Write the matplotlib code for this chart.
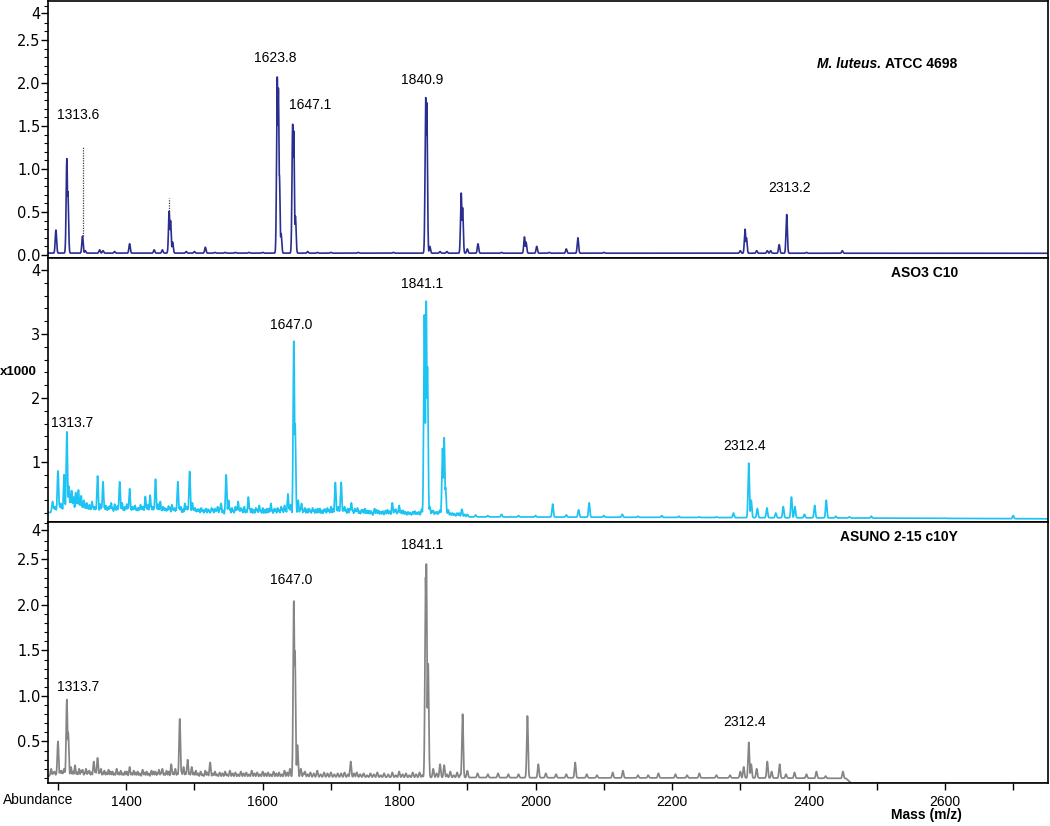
import numpy as np
import matplotlib
matplotlib.use("Agg")
import matplotlib.pyplot as plt
from matplotlib.ticker import FixedLocator

plt.rcParams['font.family'] = ['Liberation Sans', 'DejaVu Sans']

# ---------------- data ----------------
# Panel 1: M. luteus ATCC 4698 (peak m/z, peak top height)
top_peak_mz = [1297, 1313, 1314.5, 1336, 1340, 1361, 1366, 1383, 1405, 1441, 1453, 1463, 1465, 1468,
               1488, 1500, 1516, 1530, 1545, 1560, 1580, 1600, 1621.4, 1623, 1624.5, 1627, 1644, 1645.5,
               1648, 1666, 1680, 1700, 1740, 1791.6, 1839, 1840.5, 1845, 1860, 1870, 1891, 1893, 1900,
               1915.6, 1950, 1983.7, 1986, 2001.7, 2020, 2045, 2062, 2100, 2300, 2307, 2309, 2324,
               2339.6, 2344.5, 2357, 2368, 2397, 2433.5, 2449.5]
top_peak_h = [0.29, 1.12, 0.74, 0.22, 0.05, 0.06, 0.05, 0.04, 0.13, 0.06, 0.06, 0.51, 0.40, 0.15,
              0.04, 0.04, 0.09, 0.03, 0.03, 0.03, 0.03, 0.03, 2.07, 1.94, 0.93, 0.25, 1.52, 1.45,
              0.45, 0.04, 0.03, 0.03, 0.03, 0.03, 1.83, 1.78, 0.10, 0.04, 0.04, 0.72, 0.55, 0.07,
              0.13, 0.03, 0.21, 0.15, 0.10, 0.03, 0.07, 0.20, 0.03, 0.05, 0.30, 0.20, 0.05,
              0.05, 0.05, 0.12, 0.47, 0.03, 0.02, 0.05]
top_base_mz = [1285, 2751]
top_base_lvl = [0.022, 0.02]
top_dotted_mz = [1336, 1463]
top_dotted_lo = [0.22, 0.51]
top_dotted_hi = [1.26, 0.66]
top_labels = ["1313.6", "1623.8", "1647.1", "1840.9", "2313.2"]
top_label_mz = [1329, 1618.7, 1670, 1834, 2372]
top_label_y = [1.63, 2.29, 1.74, 2.03, 0.78]

# Panel 2: ASO3 C10
mid_peak_mz = [1292, 1296, 1300, 1304, 1309, 1313, 1316, 1320, 1323, 1326, 1330, 1334, 1338, 1342,
               1346, 1350, 1354, 1358, 1362, 1366, 1370, 1374, 1378, 1383, 1387, 1390.5, 1394, 1398,
               1401, 1405, 1409, 1413, 1417, 1421, 1425, 1428, 1432, 1435, 1439, 1443, 1447, 1450,
               1454, 1458, 1462, 1467, 1471, 1475.6, 1480, 1486, 1489, 1493, 1497, 1501, 1505, 1510,
               1515, 1520, 1525, 1530, 1534, 1539, 1546.5, 1550, 1555, 1560, 1564, 1568, 1573, 1579,
               1584, 1590, 1595, 1600, 1606, 1612, 1617, 1622, 1627, 1632, 1637, 1641, 1645.7, 1647.5,
               1652, 1657, 1662, 1668, 1673, 1678, 1684, 1690, 1695, 1700, 1706.5, 1711, 1715, 1720,
               1725, 1730, 1735, 1739, 1745, 1750, 1756, 1764, 1770, 1776, 1783, 1790, 1795, 1800,
               1806, 1813, 1820, 1826, 1833, 1837, 1839.7, 1841.5, 1845, 1850, 1855, 1860, 1863.6,
               1866, 1868, 1872, 1878, 1885, 1892, 1900, 1912, 1930, 1950, 1975, 2000, 2025, 2045,
               2063, 2078.5, 2100, 2127, 2150, 2185, 2210, 2240, 2265, 2290, 2312.4, 2316, 2325,
               2339, 2352, 2363, 2375, 2380, 2394, 2409, 2426, 2440, 2460, 2492, 2530, 2600, 2700]
mid_peak_h = [0.38, 0.30, 0.86, 0.35, 0.80, 1.47, 0.62, 0.55, 0.45, 0.52, 0.56, 0.47, 0.40, 0.36,
              0.33, 0.38, 0.30, 0.78, 0.34, 0.69, 0.32, 0.30, 0.36, 0.34, 0.31, 0.69, 0.36, 0.30,
              0.34, 0.58, 0.30, 0.32, 0.28, 0.33, 0.30, 0.46, 0.33, 0.48, 0.30, 0.73, 0.34, 0.38,
              0.30, 0.27, 0.31, 0.33, 0.28, 0.69, 0.30, 0.35, 0.30, 0.85, 0.36, 0.28, 0.26, 0.28,
              0.25, 0.26, 0.28, 0.27, 0.30, 0.35, 0.80, 0.40, 0.28, 0.30, 0.38, 0.28, 0.30, 0.45,
              0.27, 0.28, 0.32, 0.28, 0.27, 0.35, 0.27, 0.28, 0.30, 0.32, 0.50, 0.33, 2.90, 1.60,
              0.40, 0.35, 0.28, 0.27, 0.28, 0.26, 0.27, 0.26, 0.28, 0.30, 0.68, 0.30, 0.68, 0.30,
              0.27, 0.36, 0.27, 0.28, 0.25, 0.27, 0.24, 0.27, 0.24, 0.23, 0.25, 0.36, 0.26, 0.32,
              0.24, 0.22, 0.22, 0.21, 0.26, 3.30, 3.53, 2.50, 0.30, 0.24, 0.22, 0.25, 1.21,
              1.38, 0.60, 0.25, 0.20, 0.20, 0.26, 0.18, 0.17, 0.16, 0.18, 0.16, 0.16, 0.34, 0.17,
              0.25, 0.36, 0.16, 0.18, 0.15, 0.16, 0.15, 0.14, 0.14, 0.20, 0.98, 0.40, 0.27,
              0.28, 0.20, 0.30, 0.45, 0.30, 0.18, 0.32, 0.40, 0.15, 0.14, 0.15, 0.12, 0.12, 0.16]
# small baseline ripples of the ASO3 C10 trace
mid_noise_mz = [1294, 1298, 1302, 1306, 1311, 1318, 1321.5, 1328, 1332, 1336, 1340, 1344, 1348, 1352,
                1356, 1360, 1364, 1368, 1372, 1376, 1380, 1385, 1389, 1392, 1396, 1400, 1403, 1407,
                1411, 1415, 1419, 1423, 1427, 1430, 1434, 1437, 1441, 1445, 1449, 1452, 1456, 1460,
                1464, 1469, 1473, 1478, 1483, 1488, 1491, 1495, 1499, 1503, 1507, 1512, 1517, 1522,
                1527, 1532, 1537, 1542, 1548, 1552, 1557, 1562, 1566, 1570, 1576, 1581, 1587, 1592,
                1597, 1603, 1609, 1614, 1619, 1624, 1629, 1634, 1639, 1655, 1660, 1665, 1670, 1675,
                1681, 1687, 1692, 1697, 1703, 1709, 1713, 1718, 1722, 1728, 1732, 1737, 1742, 1747,
                1753, 1759, 1767, 1773, 1780, 1786, 1793, 1798, 1803, 1809, 1816, 1823, 1829, 1848,
                1853, 1858, 1870, 1875, 1881, 1888, 1896]
mid_noise_h = [0.30, 0.26, 0.33, 0.29, 0.34, 0.40, 0.36, 0.38, 0.35, 0.31, 0.30, 0.29, 0.27, 0.30,
               0.28, 0.26, 0.30, 0.29, 0.27, 0.31, 0.28, 0.27, 0.30, 0.29, 0.26, 0.28, 0.30, 0.27,
               0.29, 0.26, 0.28, 0.30, 0.27, 0.29, 0.26, 0.30, 0.28, 0.29, 0.27, 0.25, 0.28, 0.26,
               0.29, 0.27, 0.25, 0.28, 0.26, 0.27, 0.29, 0.25, 0.27, 0.24, 0.26, 0.25, 0.27, 0.24,
               0.26, 0.25, 0.27, 0.24, 0.28, 0.26, 0.24, 0.27, 0.25, 0.26, 0.24, 0.27, 0.25, 0.26,
               0.24, 0.25, 0.27, 0.24, 0.26, 0.25, 0.27, 0.25, 0.28, 0.27, 0.25, 0.26, 0.24, 0.25,
               0.27, 0.24, 0.26, 0.25, 0.27, 0.26, 0.24, 0.26, 0.25, 0.27, 0.24, 0.25, 0.23, 0.25,
               0.24, 0.23, 0.25, 0.22, 0.24, 0.23, 0.25, 0.22, 0.24, 0.22, 0.21, 0.23, 0.22, 0.23,
               0.21, 0.22, 0.21, 0.20, 0.19, 0.20, 0.18]
mid_base_mz = [1285, 1350, 1450, 1600, 1700, 1850, 1900, 2100, 2400, 2751]
mid_base_lvl = [0.21, 0.19, 0.18, 0.17, 0.17, 0.16, 0.14, 0.135, 0.125, 0.11]
mid_labels = ["1313.7", "1647.0", "1841.1", "2312.4"]
mid_label_mz = [1321.4, 1642, 1834, 2307]
mid_label_y = [1.61, 3.14, 3.78, 1.25]

# Panel 3: ASUNO 2-15 c10Y
bot_peak_mz = [1290, 1295, 1300, 1305, 1309, 1313, 1315, 1319, 1325, 1331, 1336, 1341, 1346, 1352.5,
               1358, 1363, 1368, 1374, 1380, 1386, 1392, 1398, 1405, 1411, 1417, 1424, 1430, 1437,
               1443, 1448, 1453, 1459, 1466, 1472, 1478.5, 1484, 1490, 1496, 1502, 1509, 1516, 1523,
               1530, 1537, 1545, 1552, 1560, 1568, 1576, 1584, 1592, 1600, 1608, 1616, 1624, 1632,
               1640, 1645.7, 1647.3, 1651, 1656, 1662, 1670, 1680, 1690, 1700, 1710, 1720, 1729,
               1738, 1748, 1758, 1768, 1778, 1790, 1800, 1810, 1820, 1830, 1838.8, 1839.9, 1842.5,
               1850, 1860, 1866, 1875, 1885, 1893, 1900, 1915, 1930, 1945, 1960, 1975, 1988, 2004,
               2015, 2030, 2045, 2058, 2075, 2090, 2113, 2128, 2150, 2165, 2180, 2205, 2222, 2240,
               2265, 2285, 2300, 2305, 2312.4, 2316, 2324, 2339.6, 2346, 2357.6, 2367, 2379.5, 2397,
               2411.6, 2425, 2450.4]
bot_peak_h = [0.20, 0.17, 0.50, 0.18, 0.20, 0.96, 0.60, 0.22, 0.24, 0.20, 0.19, 0.20, 0.18, 0.28,
              0.32, 0.20, 0.18, 0.19, 0.17, 0.20, 0.18, 0.17, 0.22, 0.18, 0.17, 0.19, 0.17, 0.18,
              0.17, 0.19, 0.20, 0.18, 0.25, 0.20, 0.75, 0.22, 0.30, 0.22, 0.18, 0.17, 0.18, 0.27,
              0.17, 0.16, 0.17, 0.18, 0.16, 0.17, 0.16, 0.18, 0.16, 0.17, 0.16, 0.17, 0.16, 0.18,
              0.20, 2.05, 1.50, 0.46, 0.20, 0.17, 0.16, 0.18, 0.16, 0.16, 0.15, 0.16, 0.28,
              0.16, 0.15, 0.15, 0.16, 0.15, 0.16, 0.17, 0.15, 0.16, 0.16, 2.30, 2.46, 1.36,
              0.20, 0.25, 0.24, 0.17, 0.16, 0.80, 0.18, 0.15, 0.14, 0.15, 0.14, 0.14, 0.78, 0.25,
              0.15, 0.14, 0.14, 0.27, 0.14, 0.13, 0.16, 0.18, 0.13, 0.13, 0.15, 0.14, 0.13, 0.15,
              0.13, 0.13, 0.17, 0.22, 0.49, 0.25, 0.20, 0.28, 0.17, 0.25, 0.14, 0.16, 0.14,
              0.17, 0.12, 0.17]
# small baseline ripples of the ASUNO trace
bot_noise_mz = [1293, 1298, 1303, 1307, 1311, 1322, 1328, 1334, 1339, 1344, 1349, 1355, 1361, 1366,
                1371, 1377, 1383, 1389, 1395, 1401, 1408, 1414, 1420, 1427, 1433, 1440, 1446, 1451,
                1456, 1462, 1469, 1475, 1481, 1487, 1493, 1499, 1505, 1512, 1519, 1527, 1533, 1541,
                1548, 1556, 1564, 1572, 1580, 1588, 1596, 1604, 1612, 1620, 1628, 1636, 1660, 1666,
                1675, 1685, 1695, 1705, 1715, 1725, 1734, 1743, 1753, 1763, 1773, 1784, 1795, 1805,
                1815, 1825, 1834, 1855, 1870, 1880, 1890]
bot_noise_h = [0.16, 0.15, 0.17, 0.16, 0.18, 0.17, 0.16, 0.18, 0.15, 0.17, 0.16, 0.18, 0.17, 0.15,
               0.16, 0.17, 0.15, 0.16, 0.15, 0.17, 0.15, 0.16, 0.15, 0.16, 0.15, 0.17, 0.15, 0.16,
               0.15, 0.17, 0.16, 0.15, 0.17, 0.16, 0.15, 0.16, 0.15, 0.14, 0.16, 0.15, 0.14, 0.15,
               0.14, 0.15, 0.14, 0.15, 0.14, 0.15, 0.14, 0.15, 0.14, 0.15, 0.14, 0.16, 0.15, 0.14,
               0.15, 0.14, 0.15, 0.14, 0.15, 0.14, 0.15, 0.14, 0.13, 0.14, 0.13, 0.14, 0.13, 0.14,
               0.13, 0.14, 0.13, 0.15, 0.14, 0.13, 0.14]
bot_base_mz = [1285, 1450, 1650, 1850, 2100, 2300, 2455, 2462, 2751]
bot_base_lvl = [0.12, 0.115, 0.11, 0.105, 0.10, 0.10, 0.095, 0.045, 0.045]
bot_labels = ["1313.7", "1647.0", "1841.1", "2312.4"]
bot_label_mz = [1329, 1642, 1834, 2307]
bot_label_y = [1.10, 2.27, 2.66, 0.71]

panel_titles = ["ATCC 4698", "ASO3 C10", "ASUNO 2-15 c10Y"]

x_ticks = list(range(1300, 2701, 100))
x_tick_labels = [str(v) if v % 200 == 0 else "" for v in x_ticks]

# ---------------- build ----------------
mz = np.arange(1285.0, 2752.0, 0.2)


def spectrum(base_mz, base_lvl, pk_mz, pk_h, sigma=1.0):
    base = np.interp(mz, base_mz, base_lvl)
    y = base.copy()
    for c, h in zip(pk_mz, pk_h):
        b = np.interp(c, base_mz, base_lvl)
        y = np.maximum(y, base + (h - b) * np.exp(-0.5 * ((mz - c) / sigma) ** 2))
    return y


W, H = 1050, 826
fig = plt.figure(figsize=(W / 100, H / 100), dpi=100)
left, width = 48 / W, 1000 / W
ax1 = fig.add_axes([left, (H - 258) / H, width, 257 / H])
ax2 = fig.add_axes([left, (H - 522) / H, width, 264 / H])
ax3 = fig.add_axes([left, (H - 783) / H, width, 261 / H])

c_top, c_mid, c_bot = "#2B2E8F", "#1DC3F3", "#858585"

ax1.plot(mz, spectrum(top_base_mz, top_base_lvl, top_peak_mz, top_peak_h), color=c_top, lw=1.2)
ax2.plot(mz, spectrum(mid_base_mz, mid_base_lvl, mid_peak_mz + mid_noise_mz, mid_peak_h + mid_noise_h),
         color=c_mid, lw=1.25)
ax3.plot(mz, spectrum(bot_base_mz, bot_base_lvl, bot_peak_mz + bot_noise_mz, bot_peak_h + bot_noise_h),
         color=c_bot, lw=1.25)

ax1.vlines(top_dotted_mz, top_dotted_lo, top_dotted_hi, colors="#444444", linestyles=(0, (1, 1)), lw=0.9)

for ax in (ax1, ax2, ax3):
    ax.set_xlim(1285.4, 2751)
    for s in ax.spines.values():
        s.set_linewidth(1.2)
        s.set_color("black")
    ax.tick_params(axis='y', direction='out', length=5, width=1, pad=0.5, labelsize=10.5,
                   labelfontfamily='DejaVu Sans')
    ax.tick_params(axis='y', which='minor', length=3, width=0.8)

for ax in (ax1, ax2):
    ax.tick_params(axis='x', which='both', bottom=False, labelbottom=False)

# y axes
ax1.set_ylim(-0.035, 2.953)
ax1.yaxis.set_major_locator(FixedLocator([0, 0.5, 1.0, 1.5, 2.0, 2.5, 2.81]))
ax1.set_yticklabels(["0.0", "0.5", "1.0", "1.5", "2.0", "2.5", "4"])
ax1.yaxis.set_minor_locator(FixedLocator([v / 10 for v in range(1, 30) if v % 5 != 0 and v != 28]))

ax2.set_ylim(0.06, 4.19)
ax2.yaxis.set_major_locator(FixedLocator([1, 2, 3, 4]))
ax2.set_yticklabels(["1", "2", "3", "4"])
ax2.yaxis.set_minor_locator(FixedLocator([v / 5 for v in range(1, 21) if v % 5 != 0]))

ax3.set_ylim(0.044, 2.91)
ax3.yaxis.set_major_locator(FixedLocator([0.5, 1.0, 1.5, 2.0, 2.5, 2.82]))
ax3.set_yticklabels(["0.5", "1.0", "1.5", "2.0", "2.5", "4"])
ax3.yaxis.set_minor_locator(FixedLocator([v / 10 for v in range(1, 30) if v % 5 != 0 and v != 28]))

ax3.xaxis.set_major_locator(FixedLocator(x_ticks))
ax3.set_xticklabels(x_tick_labels)
ax3.tick_params(axis='x', direction='out', length=5, width=1, pad=4, labelsize=10)

# peak labels
for ax, labs, xs, ys in ((ax1, top_labels, top_label_mz, top_label_y),
                         (ax2, mid_labels, mid_label_mz, mid_label_y),
                         (ax3, bot_labels, bot_label_mz, bot_label_y)):
    for lab, x, y in zip(labs, xs, ys):
        ax.text(x, y, lab, ha='center', va='center', fontsize=10, color='black')

# panel titles
t1 = ax1.text(0.909, 0.755, panel_titles[0], transform=ax1.transAxes, ha='right', va='center',
              fontsize=10, fontweight='bold')
ax1.annotate("M. luteus.", xy=(0, 0.5), xycoords=t1, xytext=(-2.5, 0), textcoords='offset points',
             ha='right', va='center', fontsize=10, fontweight='bold', fontstyle='italic')
ax2.text(0.91, 0.943, panel_titles[1], transform=ax2.transAxes, ha='right', va='center',
         fontsize=10, fontweight='bold')
ax3.text(0.91, 0.943, panel_titles[2], transform=ax3.transAxes, ha='right', va='center',
         fontsize=10, fontweight='bold')

# axis annotations
fig.text(3 / W, (H - 800) / H, "Abundance", ha='left', va='center', fontsize=10)
fig.text(962 / W, (H - 815) / H, "Mass (m/z)", ha='right', va='center', fontsize=10, fontweight='bold')
fig.text(0 / W, (H - 372) / H, "x1000", ha='left', va='center', fontsize=9.5, fontweight='bold')

fig.savefig("out.png", dpi=100)
